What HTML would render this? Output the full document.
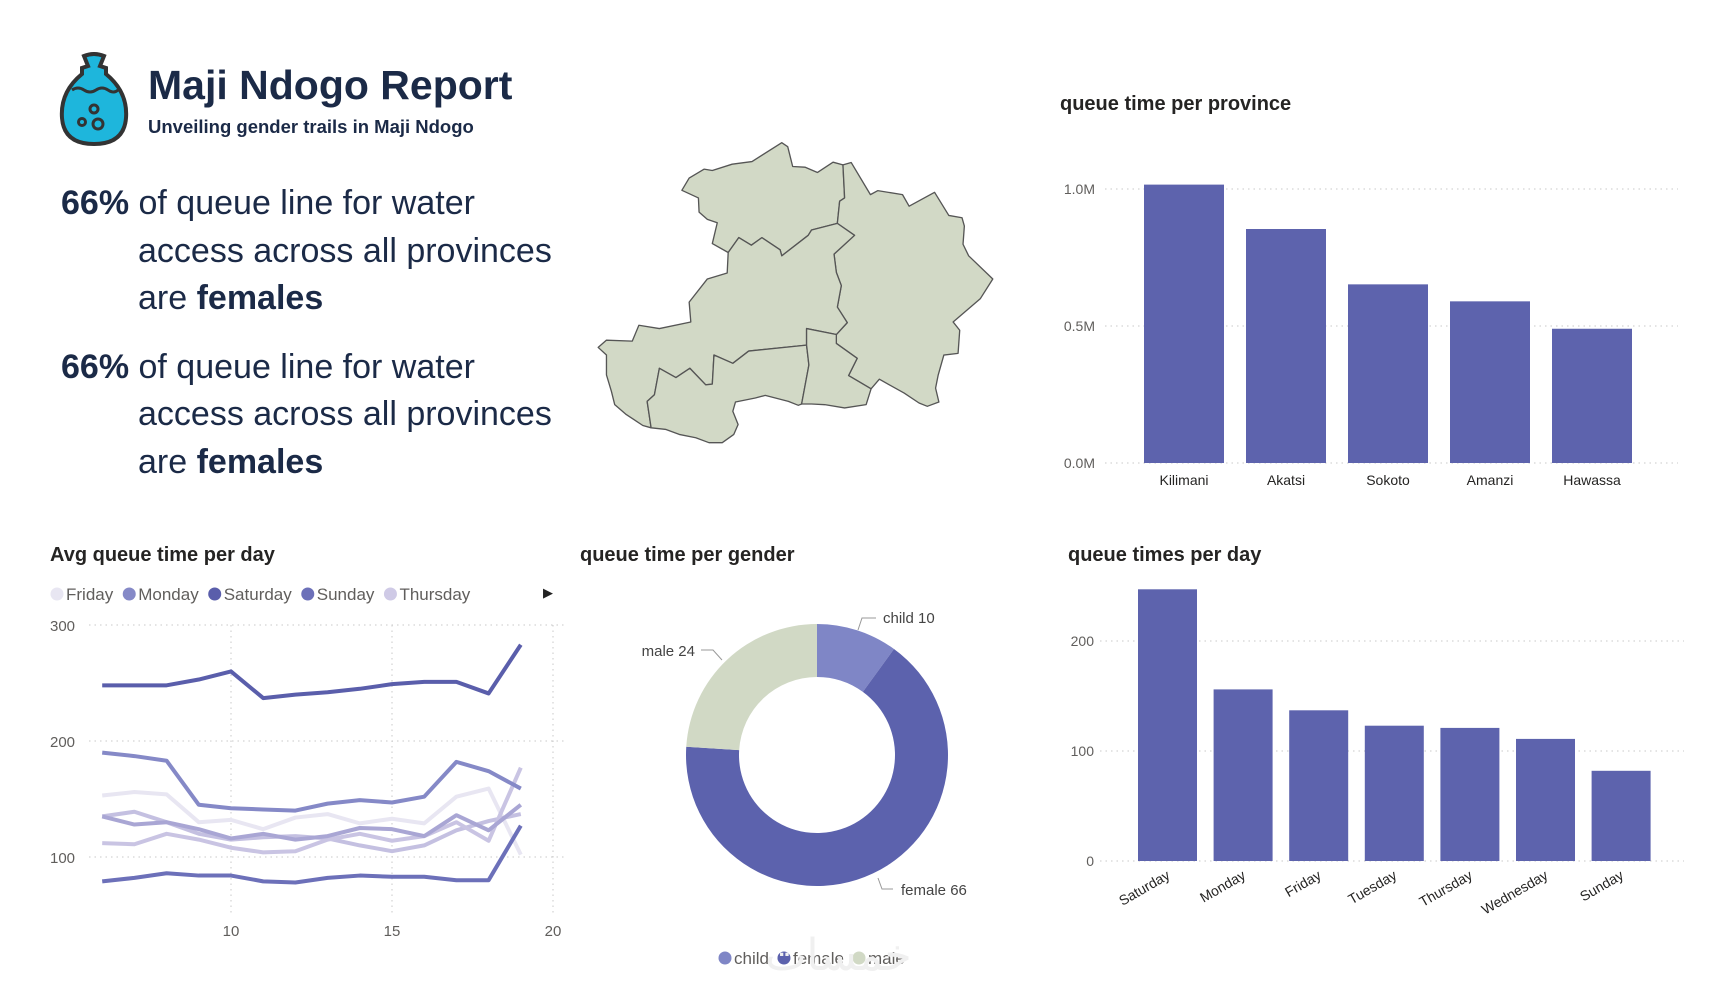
<!DOCTYPE html>
<html><head><meta charset="utf-8"><style>
body{margin:0;width:1733px;height:997px;background:#fff;overflow:hidden;position:relative;font-family:"Liberation Sans",sans-serif}
.t{position:absolute;white-space:nowrap}
.big{font-size:34px;color:#1b2a47;line-height:1}
.st{font-size:20px;font-weight:bold;color:#252423}
</style></head><body>
<svg style="position:absolute;left:58px;top:52px" width="72" height="96" viewBox="0 0 72 96">
<path d="M26 4 Q36 0 46 4 L42 14 L48 16 L48 22 Q70 40 68 66 Q66 92 36 92 Q6 92 4 66 Q2 40 24 22 L24 16 L30 14 Z" fill="#1eb6dc" stroke="#333" stroke-width="4"/>
<path d="M14 38 Q20 34 26 38 Q32 42 38 38 Q44 34 50 38 Q56 42 60 38" fill="none" stroke="#333" stroke-width="3"/>
<circle cx="36" cy="57" r="4" fill="none" stroke="#333" stroke-width="3"/><circle cx="24" cy="70" r="3.5" fill="none" stroke="#333" stroke-width="3"/><circle cx="40" cy="72" r="5" fill="none" stroke="#333" stroke-width="3"/>
</svg>
<div class="t" style="left:148px;top:62px;font-size:41px;font-weight:bold;color:#1b2a47">Maji Ndogo Report</div>
<div class="t" style="left:148px;top:116px;font-size:18.5px;font-weight:bold;color:#1b2a47">Unveiling gender trails in Maji Ndogo</div>

<div>
<div class="t big" style="left:61px;top:186px"><b>66%</b> of queue line for water</div>
<div class="t big" style="left:138px;top:234px">access across all provinces</div>
<div class="t big" style="left:138px;top:281px">are <b>females</b></div></div>
<div>
<div class="t big" style="left:61px;top:350px"><b>66%</b> of queue line for water</div>
<div class="t big" style="left:138px;top:397px">access across all provinces</div>
<div class="t big" style="left:138px;top:445px">are <b>females</b></div></div>

<svg style="position:absolute;left:580px;top:130px" width="430" height="331" viewBox="0 0 1300 1000">
<g fill="#d2d9c6" stroke="#555" stroke-width="4" stroke-linejoin="round">
<polygon points="308,182 330,145 375,118 400,122 460,103 520,95 610,38 628,50 643,110 680,112 718,128 765,97 795,105 800,205 785,215 778,282 700,302 690,318 610,380 605,362 550,325 518,348 480,325 448,370 400,343 415,280 385,270 360,248 358,205"/>
<polygon points="795,105 820,98 878,195 900,183 975,195 995,230 1072,188 1115,258 1155,265 1162,290 1158,345 1175,380 1248,450 1210,510 1128,580 1148,605 1143,675 1100,680 1083,740 1075,780 1085,822 1050,835 1025,825 980,795 935,770 905,753 880,782 812,742 838,690 775,645 775,618 808,582 778,535 790,470 775,430 768,375 830,318 778,282 785,215 800,205"/>
<polygon points="448,370 480,325 518,348 550,325 605,362 610,380 690,318 700,302 778,282 830,318 768,375 775,430 790,470 778,535 808,582 775,618 685,600 685,650 510,668 462,705 405,680 400,768 380,770 332,720 290,748 240,720 225,800 203,820 215,900 190,893 140,860 105,830 95,790 80,740 80,680 55,657 80,635 158,638 178,590 240,600 335,580 330,520 385,450 445,432"/>
<polygon points="240,720 290,748 332,720 380,770 400,768 405,680 462,705 510,668 685,650 692,710 670,828 660,832 630,820 560,802 530,810 470,822 462,850 478,890 465,920 430,945 390,945 350,930 300,920 260,905 215,900 203,820 225,800"/>
<polygon points="685,600 775,618 775,645 838,690 812,742 880,782 865,830 800,840 740,830 700,828 670,828 692,710 685,650"/>
</g></svg>

<div class="t st" style="left:1060px;top:93px">queue time per province</div>
<svg id="prov" style="position:absolute;left:0;top:0" width="1733" height="997"></svg>

<div class="t st" style="left:50px;top:544px">Avg queue time per day</div>
<div class="t st" style="left:580px;top:544px">queue time per gender</div>
<div class="t st" style="left:1068px;top:544px">queue times per day</div>
<div class="t" style="left:543px;top:585px;font-size:13px;color:#222">▶</div>

<div class="t" style="left:765px;top:930px;font-size:44px;color:#f0f0f0;font-family:'DejaVu Sans',sans-serif">خمسات</div>

<script>
const NS='http://www.w3.org/2000/svg';
const svg=document.getElementById('prov');
function mk(tag,attrs,text){const e=document.createElementNS(NS,tag);for(const k in attrs)e.setAttribute(k,attrs[k]);if(text!==undefined)e.textContent=text;svg.appendChild(e);return e;}

// ---- province bar chart data
const provinces=['Kilimani','Akatsi','Sokoto','Amanzi','Hawassa'];
const provValues=[1.016,0.854,0.652,0.59,0.49];
const provTicks=[0,0.5,1.0];
const provTickLabels=['0.0M','0.5M','1.0M'];

// ---- line chart data
const lineX=[6,7,8,9,10,11,12,13,14,15,16,17,18,19];
const lineSeriesNames=['Friday','Monday','Saturday','Sunday','Thursday','Tuesday','Wednesday'];
const friday=[153,156,154,130,132,124,134,137,129,133,129,152,159,102];
const monday=[190,187,183,145,142,141,140,146,149,147,152,182,174,159];
const saturday=[248,248,248,253,260,237,240,242,245,249,251,251,241,283];
const sunday=[79,82,86,84,84,79,78,82,84,83,83,80,80,127];
const thursday=[112,111,120,115,108,104,105,115,120,114,118,130,114,177];
const tuesday=[135,128,130,124,116,120,115,118,125,124,118,136,123,145];
const wednesday=[135,139,130,120,115,117,118,116,110,105,110,123,131,137];
const lineYTicks=[100,200,300];
const lineXTicks=[10,15,20];

// ---- gender donut data
const genders=['child','female','male'];
const genderValues=[10,66,24];

// ---- day bar chart data
const days=['Saturday','Monday','Friday','Tuesday','Thursday','Wednesday','Sunday'];
const dayValues=[247,156,137,123,121,111,82];
const dayTicks=[0,100,200];

// province chart
const pY=v=>463-v*274, pX=i=>1144+i*102;
provTicks.forEach((t,i)=>{
 const g=mk('line',{x1:1105,x2:1678,y1:pY(t),y2:pY(t),stroke:'#c8c8c8','stroke-dasharray':'1.5 4'});
 
 
 const l=mk('text',{x:1095,y:pY(t)+5,'text-anchor':'end','font-size':14,fill:'#605e5c'},provTickLabels[i]);
 
 
});
provinces.forEach((p,i)=>{
 const r=mk('rect',{x:pX(i),y:pY(provValues[i]),width:80,height:463-pY(provValues[i]),fill:'#5d63ad'});
 
 
 const l=mk('text',{x:pX(i)+40,y:485,'text-anchor':'middle','font-size':14,fill:'#252423'},p);
 
 
});

// line chart
const lX=v=>231+(v-10)*32.2, lY=v=>857-(v-100)*1.16;
lineYTicks.forEach(t=>{
 const g=mk('line',{x1:89,x2:566,y1:lY(t),y2:lY(t),stroke:'#c8c8c8','stroke-dasharray':'1.5 4'});
 
 
 const l=mk('text',{x:50,y:lY(t)+6,'font-size':15,fill:'#605e5c'},t);
 
 
});
lineXTicks.forEach(t=>{
 const g=mk('line',{x1:lX(t),x2:lX(t),y1:625,y2:915,stroke:'#c8c8c8','stroke-dasharray':'1.5 4'});
 
 
 const l=mk('text',{x:lX(t),y:936,'text-anchor':'middle','font-size':15,fill:'#605e5c'},t);
 
 
});
const lineData=[friday,wednesday,thursday,tuesday,monday,sunday,saturday];
const lineNames=['Friday','Wednesday','Thursday','Tuesday','Monday','Sunday','Saturday'];
const lineColors=['#e8e6f2','#c4c0e1','#c9c4e3','#a9a6d4','#8589c7','#6c70b9','#5a5eab'];
lineData.forEach((s,k)=>{
 const pts=s.map((v,i)=>lX(lineX[i])+','+lY(v)).join(' ');
 const pl=mk('polyline',{points:pts,fill:'none',stroke:lineColors[k],'stroke-width':4,'stroke-linejoin':'round'});
 
 
});
const legCols={Friday:'#e8e6f2',Monday:'#8589c7',Saturday:'#5a5eab',Sunday:'#6c70b9',Thursday:'#cfcae6'};
let lx=50;
['Friday','Monday','Saturday','Sunday','Thursday'].forEach(n=>{
 const c=mk('circle',{cx:lx+7,cy:594,r:6.5,fill:legCols[n]});
 
 
 const t=mk('text',{x:lx+16,y:600,'font-size':17,fill:'#605e5c'},n);
 
 
 lx+=16+t.getComputedTextLength()+9;
});

// donut
const cx=817,cy=755,R=131,r0=78;
const gCols=['#7f86c6','#5c62ad','#d1d9c5'];
const tot=genderValues.reduce((a,b)=>a+b,0);
let a0=-Math.PI/2;
genderValues.forEach((v,i)=>{
 const a1=a0+v/tot*2*Math.PI, lg=(a1-a0)>Math.PI?1:0;
 const P=(rr,a)=>(cx+rr*Math.cos(a))+' '+(cy+rr*Math.sin(a));
 const d='M'+P(R,a0)+' A'+R+' '+R+' 0 '+lg+' 1 '+P(R,a1)+' L'+P(r0,a1)+' A'+r0+' '+r0+' 0 '+lg+' 0 '+P(r0,a0)+'Z';
 const p=mk('path',{d:d,fill:gCols[i]});
 
 
 a0=a1;
});
const lblPos=[[883,623,'start',[[876,618],[862,618],[858,630]]],[901,895,'start',[[893,889],[882,889],[878,878]]],[695,656,'end',[[701,650],[713,650],[722,660]]]];
genders.forEach((g,i)=>{
 const L=lblPos[i];
 const pl=mk('polyline',{points:L[3].map(p=>p.join(',')).join(' '),fill:'none',stroke:'#999','stroke-width':1});
 
 
 const t=mk('text',{x:L[0],y:L[1],'text-anchor':L[2],'font-size':15,fill:'#444'},g+' '+genderValues[i]);
 
 
});
let gx=718;
genders.forEach((g,i)=>{
 const c=mk('circle',{cx:gx+7,cy:958,r:6.5,fill:gCols[i]});
 
 
 const t=mk('text',{x:gx+16,y:964,'font-size':17,fill:'#605e5c'},g);
 
 
 gx+=16+t.getComputedTextLength()+8;
});

// day chart
const dY=v=>861-v*1.1, dX=i=>1138+i*75.6;
dayTicks.forEach(t=>{
 const g=mk('line',{x1:1100,x2:1684,y1:dY(t),y2:dY(t),stroke:'#c8c8c8','stroke-dasharray':'1.5 4'});
 
 
 const l=mk('text',{x:1094,y:dY(t)+5,'text-anchor':'end','font-size':14,fill:'#605e5c'},t);
 
 
});
days.forEach((d,i)=>{
 const r=mk('rect',{x:dX(i),y:dY(dayValues[i]),width:59,height:861-dY(dayValues[i]),fill:'#5d63ad'});
 
 
 const xx=dX(i)+33, yy=878;
 const l=mk('text',{x:xx,y:yy,'text-anchor':'end','font-size':14,fill:'#252423',transform:'rotate(-30 '+xx+' '+yy+')'},d);
 
 
});
</script>
</body></html>
